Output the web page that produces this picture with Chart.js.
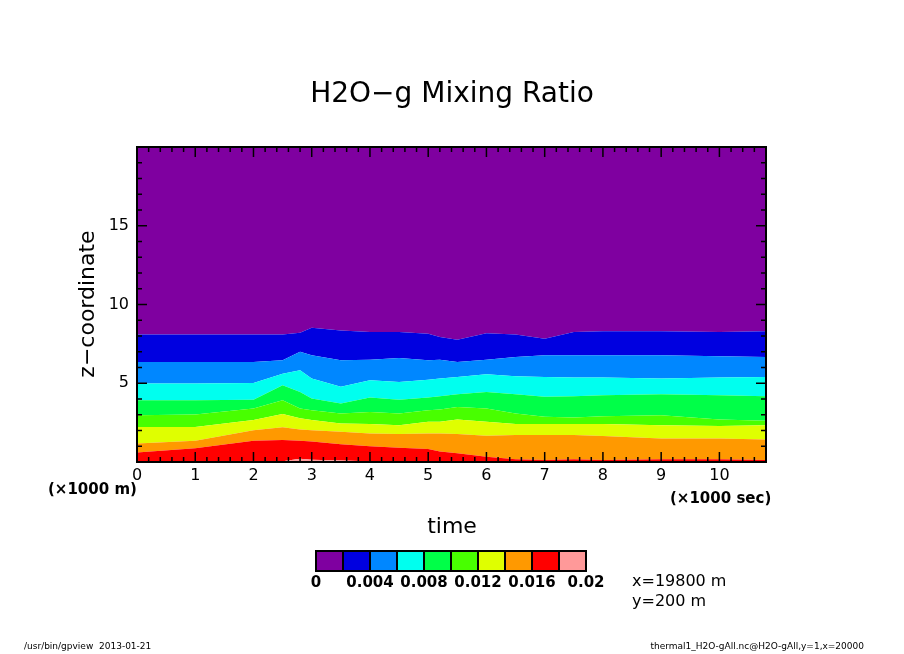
<!DOCTYPE html>
<html>
<head>
<meta charset="utf-8">
<style>
  html, body { margin: 0; padding: 0; background: #fff; }
  #wrap { width: 904px; height: 654px; position: relative; }
</style>
<script src="https://cdn.jsdelivr.net/npm/chart.js@4.4.1/dist/chart.umd.min.js"></script>
</head>
<body>
<div id="wrap"><canvas id="c" width="904" height="654"></canvas></div>
<script>
// time in 1000 sec
const tiempos = [0, 1, 2, 2.5, 2.8, 3, 3.5, 4, 4.5, 5, 5.2, 5.5, 6, 6.5, 7, 7.5, 8, 9, 10, 10.8];
// contour boundary heights (1000 m), from highest level to lowest
const b002 = [8.1, 8.1, 8.1, 8.1, 8.2, 8.52, 8.35, 8.25, 8.25, 8.15, 7.93, 7.76, 8.18, 8.1, 7.83, 8.25, 8.3, 8.3, 8.25, 8.3];
const b004 = [6.35, 6.35, 6.35, 6.46, 7.0, 6.78, 6.46, 6.5, 6.6, 6.46, 6.5, 6.35, 6.5, 6.67, 6.78, 6.78, 6.78, 6.78, 6.72, 6.67];
const b006 = [4.98, 4.98, 5.02, 5.6, 5.82, 5.3, 4.77, 5.19, 5.08, 5.23, 5.3, 5.4, 5.57, 5.45, 5.4, 5.36, 5.36, 5.3, 5.36, 5.4];
const b008 = [3.92, 3.92, 3.96, 4.88, 4.45, 4.03, 3.71, 4.09, 3.96, 4.09, 4.18, 4.3, 4.45, 4.3, 4.14, 4.18, 4.24, 4.3, 4.24, 4.18];
const b010 = [2.97, 3.01, 3.4, 3.92, 3.4, 3.29, 3.08, 3.18, 3.08, 3.29, 3.33, 3.5, 3.4, 3.08, 2.87, 2.83, 2.91, 2.97, 2.7, 2.62];
const b012 = [2.23, 2.23, 2.66, 3.04, 2.77, 2.66, 2.45, 2.41, 2.34, 2.56, 2.56, 2.7, 2.56, 2.41, 2.41, 2.41, 2.41, 2.34, 2.28, 2.34];
const b014 = [1.18, 1.35, 2.02, 2.2, 2.07, 2.02, 1.92, 1.81, 1.77, 1.81, 1.81, 1.77, 1.67, 1.71, 1.71, 1.71, 1.65, 1.5, 1.5, 1.43];
const b016 = [0.6, 0.87, 1.35, 1.39, 1.35, 1.3, 1.13, 1.0, 0.9, 0.82, 0.66, 0.55, 0.34, 0.17, 0.13, 0.17, 0.13, 0.17, 0.17, 0.13];
const b018 = [0, 0, 0.02, 0.05, 0.2, 0.15, 0.1, 0.05, 0.02, 0, 0, 0, 0, 0, 0, 0, 0, 0, 0, 0];
const techo = tiempos.map(() => 20);

const colores = ['#ff9999', '#ff0000', '#ff9900', '#dfff00', '#48ff00', '#00ff48', '#00ffef', '#0087ff', '#0000e0', '#7f00a0'];
const niveles = ['0', '0.004', '0.008', '0.012', '0.016', '0.02'];
const xTicks = [0, 1, 2, 3, 4, 5, 6, 7, 8, 9, 10];
const yTicks = [5, 10, 15];

const capas = [b018, b016, b014, b012, b010, b008, b006, b004, b002, techo];
const datasets = capas.map((arr, i) => ({
    data: tiempos.map((t, j) => ({ x: t, y: arr[j] })),
    backgroundColor: colores[i],
    borderWidth: 0,
    pointRadius: 0,
    tension: 0,
    fill: i === 0 ? 'origin' : '-1'
}));

const F = 'DejaVu Sans, sans-serif';

const adornos = {
    id: 'adornos',
    afterDraw(chart) {
        const ctx = chart.ctx;
        const a = chart.chartArea;
        const sx = chart.scales.x, sy = chart.scales.y;
        ctx.save();
        ctx.strokeStyle = '#000';
        ctx.fillStyle = '#000';
        ctx.lineWidth = 2;
        ctx.strokeRect(a.left, a.top, a.right - a.left, a.bottom - a.top);
        // ticks
        ctx.lineWidth = 1.5;
        for (let k = 0; k <= 54; k++) {
            const v = k * 0.2;
            const px = sx.getPixelForValue(v);
            if (px > a.right) break;
            const len = (k % 5 === 0) ? 10 : 5;
            ctx.beginPath();
            ctx.moveTo(px, a.bottom); ctx.lineTo(px, a.bottom - len);
            ctx.moveTo(px, a.top); ctx.lineTo(px, a.top + len);
            ctx.stroke();
        }
        for (let v = 0; v <= 20; v++) {
            const py = sy.getPixelForValue(v);
            const len = (v % 5 === 0) ? 10 : 5;
            ctx.beginPath();
            ctx.moveTo(a.left, py); ctx.lineTo(a.left + len, py);
            ctx.moveTo(a.right, py); ctx.lineTo(a.right - len, py);
            ctx.stroke();
        }
        // tick labels
        ctx.font = '16px ' + F;
        ctx.textAlign = 'center'; ctx.textBaseline = 'top';
        xTicks.forEach(v => ctx.fillText(String(v), sx.getPixelForValue(v), a.bottom + 6));
        ctx.textAlign = 'right'; ctx.textBaseline = 'middle';
        yTicks.forEach(v => ctx.fillText(String(v), a.left - 8, sy.getPixelForValue(v)));
        // titles
        ctx.textAlign = 'center'; ctx.textBaseline = 'middle';
        ctx.font = '28px ' + F;
        ctx.fillText('H2O\u2212g Mixing Ratio', 452, 95);
        ctx.font = '22px ' + F;
        ctx.fillText('time', 452, 527);
        ctx.save();
        ctx.translate(88, 304);
        ctx.rotate(-Math.PI / 2);
        ctx.fillText('z\u2212coordinate', 0, 0);
        ctx.restore();
        ctx.font = 'bold 15px ' + F;
        ctx.textAlign = 'left';
        ctx.fillText('(\u00d71000 m)', 48, 490);
        ctx.fillText('(\u00d71000 sec)', 670, 499);
        ctx.font = '16px ' + F;
        ctx.fillText('x=19800 m', 632, 582);
        ctx.fillText('y=200 m', 632, 602);
        // colour bar
        const cx = 316, cy = 551, cw = 27, ch = 20;
        const orden = colores.slice().reverse();
        orden.forEach((c, i) => {
            ctx.fillStyle = c;
            ctx.fillRect(cx + i * cw, cy, cw, ch);
        });
        ctx.strokeStyle = '#000'; ctx.lineWidth = 2;
        for (let i = 0; i < orden.length; i++) ctx.strokeRect(cx + i * cw, cy, cw, ch);
        ctx.fillStyle = '#000';
        ctx.font = 'bold 15px ' + F;
        ctx.textAlign = 'center';
        niveles.forEach((n, i) => ctx.fillText(n, cx + i * 2 * cw, 583));
        // footer
        ctx.font = '9px ' + F;
        ctx.textAlign = 'left';
        ctx.fillText('/usr/bin/gpview  2013-01-21', 24, 647);
        ctx.textAlign = 'right';
        ctx.fillText('thermal1_H2O-gAll.nc@H2O-gAll,y=1,x=20000', 864, 647);
        ctx.restore();
    }
};

new Chart(document.getElementById('c'), {
    type: 'line',
    data: { datasets: datasets },
    options: {
        responsive: false,
        animation: false,
        layout: { padding: { left: 137, right: 138, top: 147, bottom: 192 } },
        plugins: { legend: { display: false }, tooltip: { enabled: false }, filler: { propagate: false } },
        scales: {
            x: { type: 'linear', min: 0, max: 10.8, display: false },
            y: { min: 0, max: 20, display: false }
        }
    },
    plugins: [adornos]
});
</script>
</body>
</html>
